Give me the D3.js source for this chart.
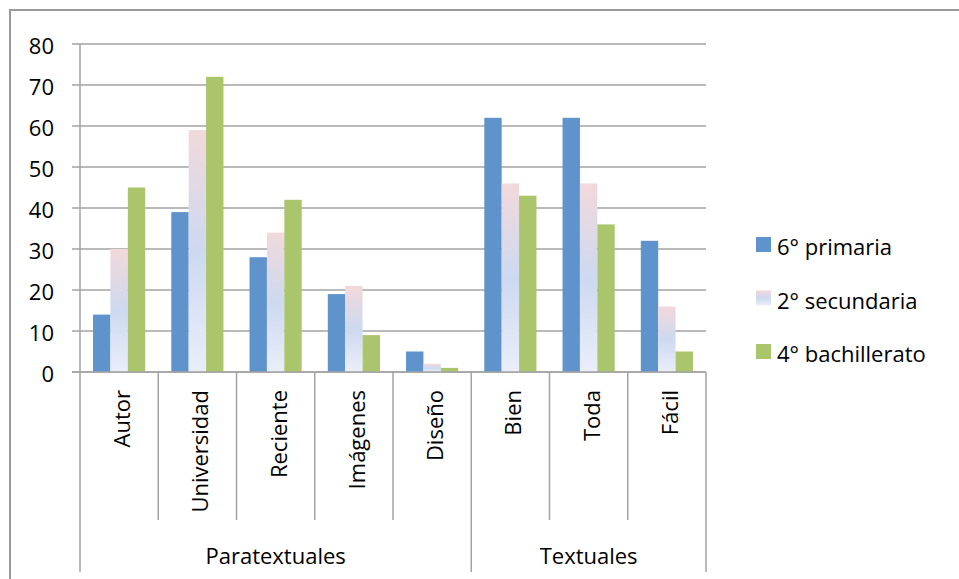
<!DOCTYPE html>
<html>
<head>
<meta charset="utf-8">
<script src="https://cdn.jsdelivr.net/npm/d3@7"></script>
<style>
  body { margin: 0; background: #fff; }
  text { font-family: "Open Sans", sans-serif; fill: #000; }
</style>
</head>
<body>
<div id="svg-container"></div>
<script>
var categories = ["Autor", "Universidad", "Reciente", "Imágenes", "Diseño", "Bien", "Toda", "Fácil"];
var groups = [
    {name: "Paratextuales", first: "Autor", last: "Diseño"},
    {name: "Textuales", first: "Bien", last: "Fácil"}
];
var seriesNames = ["6° primaria", "2° secundaria", "4° bachillerato"];
var primaria = [14, 39, 28, 19, 5, 62, 62, 32];
var secundaria = [30, 59, 34, 21, 2, 46, 46, 16];
var bachillerato = [45, 72, 42, 9, 1, 43, 36, 5];
var yTicks = [0, 10, 20, 30, 40, 50, 60, 70, 80];

var W = 959, H = 579;
var plot = {left: 80, right: 706, top: 44, bottom: 372};
var gridColor = "#a3a3a3";

var x0, x1, y;

function init() {
    var svg = d3.select("#svg-container").append("svg")
        .attr("width", W)
        .attr("height", H)
        .attr("class", "chart-svg");

    var defs = svg.append("defs");
    var grad = defs.append("linearGradient")
        .attr("id", "pinkblue")
        .attr("x1", 0).attr("y1", 0)
        .attr("x2", 0).attr("y2", 1);
    grad.append("stop").attr("offset", "0%").attr("stop-color", "#f2d9db");
    grad.append("stop").attr("offset", "50%").attr("stop-color", "#cdd9f0");
    grad.append("stop").attr("offset", "100%").attr("stop-color", "#eaeef9");

    // outer chart border (runs off the right and bottom edges)
    svg.append("rect")
        .attr("x", 10).attr("y", 10)
        .attr("width", 980).attr("height", 620)
        .attr("fill", "none")
        .attr("stroke", "#999")
        .attr("stroke-width", 2);

    x0 = d3.scaleBand().domain(categories).range([plot.left, plot.right]);
    x1 = d3.scaleBand().domain(seriesNames).range([0, x0.bandwidth()])
        .paddingInner(0).paddingOuter(0.75);
    y = d3.scaleLinear().domain([0, 80]).range([plot.bottom, plot.top]);

    drawGrid(svg);
    drawBars(svg);
    drawCategoryAxis(svg);
    drawLegend(svg);
}

function drawGrid(svg) {
    svg.selectAll(".grid")
        .data(yTicks)
    .enter().append("line")
        .attr("class", "grid")
        .attr("x1", plot.left - 8)
        .attr("x2", plot.right)
        .attr("y1", function(d) {return y(d);})
        .attr("y2", function(d) {return y(d);})
        .attr("stroke", gridColor)
        .attr("stroke-width", 1.5);

    svg.selectAll(".ytick")
        .data(yTicks)
    .enter().append("text")
        .attr("class", "ytick")
        .attr("x", 54)
        .attr("y", function(d) {return y(d) + 10;})
        .attr("text-anchor", "end")
        .attr("font-size", 22)
        .text(function(d) {return d;});

    svg.append("line")
        .attr("x1", plot.left).attr("x2", plot.left)
        .attr("y1", plot.top).attr("y2", plot.bottom)
        .attr("stroke", gridColor)
        .attr("stroke-width", 1.5);
}

function drawBars(svg) {
    var rows = categories.map(function(c, i) {
        return {cat: c, values: [primaria[i], secundaria[i], bachillerato[i]]};
    });
    var fills = ["#5f93cb", "url(#pinkblue)", "#abc56c"];

    var g = svg.selectAll(".cat")
        .data(rows)
    .enter().append("g")
        .attr("class", "cat")
        .attr("transform", function(d) {return "translate(" + x0(d.cat) + ",0)";});

    g.selectAll("rect")
        .data(function(d) {
            return d.values.map(function(v, j) {return {s: seriesNames[j], v: v, j: j};});
        })
    .enter().append("rect")
        .attr("x", function(d) {return x1(d.s);})
        .attr("width", x1.bandwidth())
        .attr("y", function(d) {return y(d.v);})
        .attr("height", function(d) {return plot.bottom - y(d.v);})
        .attr("fill", function(d) {return fills[d.j];});
}

function drawCategoryAxis(svg) {
    var lvl1 = 520, lvl2 = 572;

    svg.append("line")
        .attr("x1", plot.left - 8).attr("x2", plot.right)
        .attr("y1", plot.bottom).attr("y2", plot.bottom)
        .attr("stroke", gridColor)
        .attr("stroke-width", 1.5);

    // dividers between categories
    var bounds = categories.map(function(c) {return x0(c);}).concat([plot.right]);
    var outer = [plot.left, x0(groups[1].first), plot.right];
    svg.selectAll(".divider")
        .data(bounds)
    .enter().append("line")
        .attr("class", "divider")
        .attr("x1", function(d) {return d;})
        .attr("x2", function(d) {return d;})
        .attr("y1", plot.bottom)
        .attr("y2", function(d) {return outer.indexOf(d) >= 0 ? lvl2 : lvl1;})
        .attr("stroke", gridColor)
        .attr("stroke-width", 1.5);

    svg.selectAll(".catlabel")
        .data(categories)
    .enter().append("text")
        .attr("class", "catlabel")
        .attr("transform", function(d) {
            return "translate(" + (x0(d) + x0.bandwidth()/2 + 11) + ",390)rotate(-90)";
        })
        .attr("text-anchor", "end")
        .attr("font-size", 22)
        .text(function(d) {return d;});

    svg.selectAll(".grouplabel")
        .data(groups)
    .enter().append("text")
        .attr("class", "grouplabel")
        .attr("x", function(d) {return (x0(d.first) + x0(d.last) + x0.bandwidth())/2;})
        .attr("y", 564)
        .attr("text-anchor", "middle")
        .attr("font-size", 22)
        .text(function(d) {return d.name;});
}

function drawLegend(svg) {
    var fills = ["#5f93cb", "url(#pinkblue)", "#abc56c"];
    var item = svg.selectAll(".legend")
        .data(seriesNames)
    .enter().append("g")
        .attr("class", "legend")
        .attr("transform", function(d, i) {return "translate(756," + (237 + i*53.5) + ")";});
    item.append("rect")
        .attr("width", 15)
        .attr("height", 15)
        .attr("fill", function(d, i) {return fills[i];});
    item.append("text")
        .attr("x", 21)
        .attr("y", 18)
        .attr("font-size", 22)
        .text(function(d) {return d;});
}

init();
</script>
</body>
</html>
